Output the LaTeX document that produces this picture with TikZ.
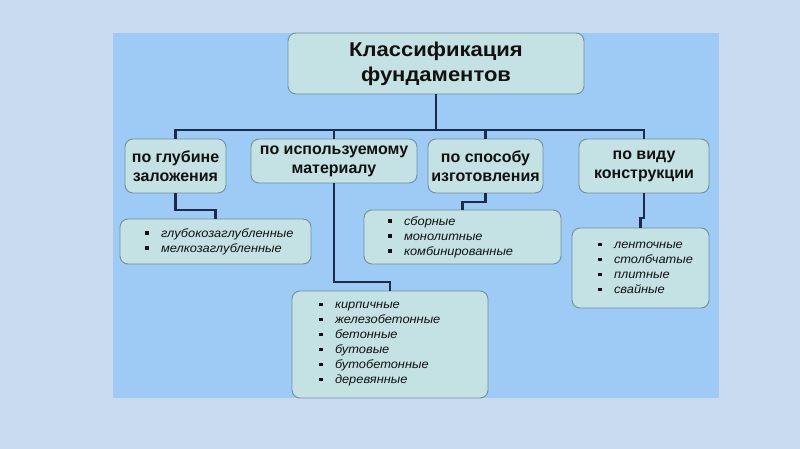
\documentclass[tikz,border=0pt]{standalone}
\usepackage{fontspec}
\setmainfont{Liberation Sans}
\newfontfamily\itemfont[FakeStretch=1.07]{Liberation Sans}
\newfontfamily\titlefont[FakeStretch=1.1]{Liberation Sans}
\definecolor{bgedge}{HTML}{C9DCEF}
\definecolor{bgmid}{HTML}{EEF4FA}
\definecolor{panel}{HTML}{9DCBF6}
\definecolor{boxfill}{HTML}{C4E2E4}
\definecolor{boxline}{HTML}{6F8E9E}
\definecolor{conn}{HTML}{1C2B4A}
\definecolor{txt}{HTML}{111111}
\newcommand{\blt}{\makebox[16pt][l]{\rule[2.5pt]{3.5pt}{3.5pt}}}
\tikzset{
  box/.style={draw=boxline, line width=0.9pt, fill=boxfill, rounded corners=8pt, text=txt, inner sep=0pt},
  head/.style={box, font=\bfseries\fontsize{16}{19}\selectfont, align=center},
  title/.style={box, font=\titlefont\bfseries\fontsize{20}{25}\selectfont, align=center},
  listbox/.style={box, font=\itemfont\itshape\fontsize{12}{15}\selectfont, align=left, inner xsep=25pt},
  conn/.style={draw=conn, line width=2.3pt}
}
\begin{document}
\begin{tikzpicture}[x=1pt,y=-1pt]
\useasboundingbox (0,0) rectangle (800,449);
\shade[top color=bgedge, middle color=bgmid, bottom color=bgedge] (0,0) rectangle (800,449);
\fill[panel] (113,33) rectangle (719,398);

\node[title, minimum width=296pt, minimum height=61pt] (top) at (436,63.5) {Классификация\\фундаментов};

\node[head, minimum width=101pt, minimum height=54pt] (b1) at (175.5,166) {по глубине\\заложения};
\node[head, minimum width=166pt, minimum height=44pt] (b2) at (334,161) {по используемому\\материалу};
\node[head, minimum width=115pt, minimum height=54pt] (b3) at (485.5,166) {по способу\\изготовления};
\node[head, minimum width=130pt, minimum height=54pt] (b4) at (644,166) {по виду\\конструкции};

\node[listbox, minimum width=191pt, text width=141pt, minimum height=45pt, inner xsep=24pt] (sA) at (215.5,241.5)
  {\blt глубокозаглубленные\\\blt мелкозаглубленные};
\node[listbox, minimum width=197pt, text width=149pt, minimum height=54pt, inner xsep=24pt] (sB) at (462.5,237)
  {\blt сборные\\\blt монолитные\\\blt комбинированные};
\node[listbox, minimum width=137pt, text width=85pt, minimum height=80pt, inner xsep=26pt] (sC) at (640.5,268)
  {\blt ленточные\\\blt столбчатые\\\blt плитные\\\blt свайные};
\node[listbox, minimum width=196pt, text width=142pt, minimum height=107pt, inner xsep=27pt] (sD) at (390,344.5)
  {\blt кирпичные\\\blt железобетонные\\\blt бетонные\\\blt бутовые\\\blt бутобетонные\\\blt деревянные};

\coordinate (bus) at (0,130);
\coordinate (eA) at (215.5,210);
\coordinate (eB) at (462.5,202);
\coordinate (eC) at (640.5,218);
\coordinate (eD) at (390,282);

\draw[conn] (top.south) -- (top.south |- bus);
\draw[conn] (b1.north) -- (b1.north |- bus) -- (b4.north |- bus) -- (b4.north);
\draw[conn] (b2.north) -- (b2.north |- bus);
\draw[conn] (b3.north) -- (b3.north |- bus);

\draw[conn] (b1.south) |- (eA) -- (sA.north);
\draw[conn] (b3.south) |- (eB) -- (sB.north);
\draw[conn] (b4.south) |- (eC) -- (sC.north);
\draw[conn] (b2.south) |- (eD) -- (sD.north);
\end{tikzpicture}
\end{document}
